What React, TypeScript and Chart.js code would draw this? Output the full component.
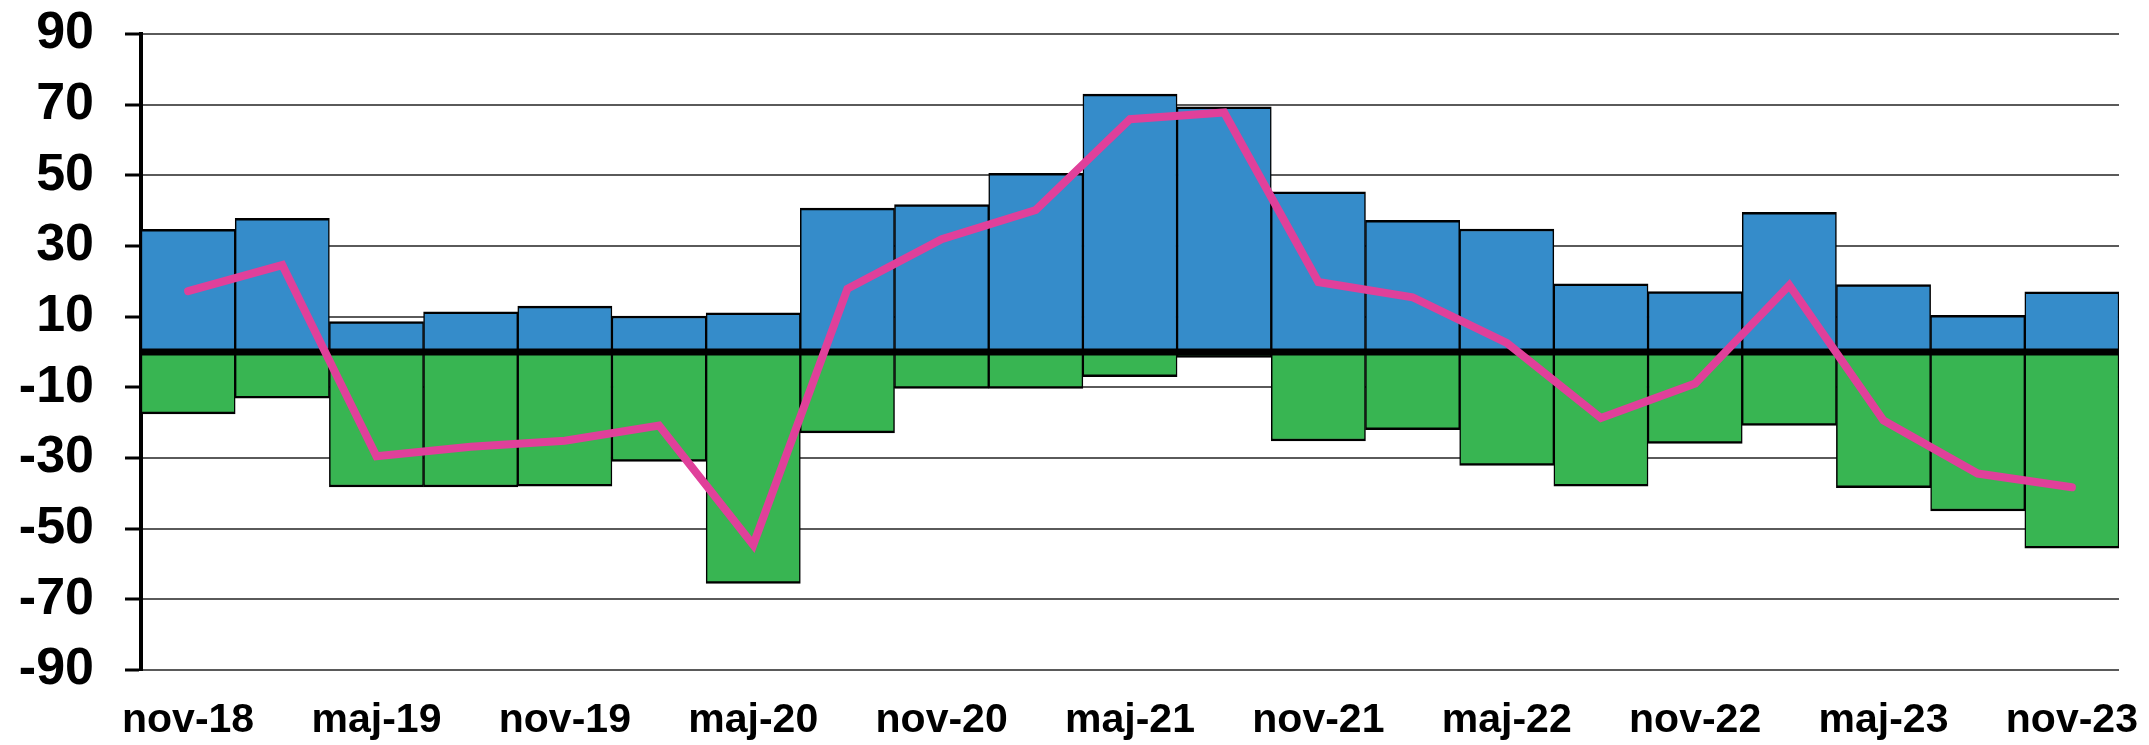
import React, { useEffect, useRef } from "react";
import { Chart, registerables } from "chart.js";

Chart.register(...registerables);

const CATEGORIES = [
  "nov-18", "feb-19", "maj-19", "aug-19", "nov-19", "feb-20", "maj-20",
  "aug-20", "nov-20", "feb-21", "maj-21", "aug-21", "nov-21", "feb-22",
  "maj-22", "aug-22", "nov-22", "feb-23", "maj-23", "aug-23", "nov-23",
];
const POSITIVE = [
  34.7, 37.8, 8.6, 11.4, 13.0, 10.2, 11.1, 40.7, 41.7, 50.6, 73.0, 69.4,
  45.3, 37.3, 34.8, 19.3, 17.1, 39.5, 19.1, 10.4, 17.0,
];
const NEGATIVE = [
  -17.5, -13.1, -38.2, -38.2, -38.0, -31.0, -65.5, -22.9, -10.3, -10.3, -7.0,
  -1.5, -25.2, -22.0, -32.1, -38.0, -25.9, -20.8, -38.4, -45.0, -55.5,
];
const BALANCE = [
  17.2, 24.6, -29.5, -26.8, -25.1, -20.8, -54.6, 17.9, 31.9, 40.2, 65.9, 67.8,
  19.8, 15.5, 2.6, -18.7, -8.9, 18.9, -19.4, -34.4, -38.3,
];
const Y_TICKS = [-90, -70, -50, -30, -10, 10, 30, 50, 70, 90];

const FONT = "'Liberation Sans', Arial, sans-serif";

const zeroLine = {
  id: "zeroLine",
  beforeDatasetDraw(chart: any, args: any) {
    if (args.meta.type !== "line") return;
    const y = chart.scales.y.getPixelForValue(0);
    const { left, right } = chart.chartArea;
    const ctx = chart.ctx;
    ctx.save();
    ctx.strokeStyle = "#000";
    ctx.lineWidth = 7;
    ctx.beginPath();
    ctx.moveTo(left, y);
    ctx.lineTo(right, y);
    ctx.stroke();
    ctx.restore();
  },
};

const BAR_BORDER = { top: 2.5, bottom: 2.5, left: 1.5, right: 1.5 };

export default function App() {
  const ref = useRef<HTMLCanvasElement>(null);

  useEffect(() => {
    if (!ref.current) return;
    const chart = new Chart(ref.current, {
      type: "bar",
      data: {
        labels: CATEGORIES,
        datasets: [
          {
            type: "line",
            data: BALANCE,
            borderColor: "#E0409A",
            borderWidth: 8,
            pointRadius: 0,
            tension: 0,
            stack: "line",
            order: 0,
            borderCapStyle: "round",
            borderJoinStyle: "miter",
          } as any,
          {
            type: "bar",
            data: POSITIVE,
            backgroundColor: "#358CCA",
            borderColor: "#000",
            borderWidth: BAR_BORDER,
            barPercentage: 1,
            categoryPercentage: 1,
            stack: "bars",
            order: 1,
          } as any,
          {
            type: "bar",
            data: NEGATIVE,
            backgroundColor: "#38B552",
            borderColor: "#000",
            borderWidth: BAR_BORDER,
            barPercentage: 1,
            categoryPercentage: 1,
            stack: "bars",
            order: 1,
          } as any,
        ],
      },
      options: {
        animation: false,
        responsive: false,
        events: [],
        layout: { padding: { left: 0, top: 34, right: 30, bottom: 0 } },
        plugins: {
          legend: { display: false },
          tooltip: { enabled: false },
          title: { display: false },
        },
        scales: {
          x: {
            stacked: true,
            grid: { display: false, drawTicks: false },
            border: { display: false },
            afterFit: (scale: any) => {
              scale.height = 75;
              scale.paddingLeft = 0;
              scale.paddingRight = 0;
            },
            ticks: {
              autoSkip: false,
              maxRotation: 0,
              padding: 26,
              color: "#000",
              font: { family: FONT, size: 41, weight: "bold" },
              callback: (_v: any, i: number) => (i % 2 === 0 ? CATEGORIES[i] : ""),
            },
          },
          y: {
            stacked: true,
            min: -90,
            max: 90,
            afterBuildTicks: (scale: any) => {
              scale.ticks = Y_TICKS.map((v) => ({ value: v }));
            },
            afterFit: (scale: any) => {
              scale.width = 141;
              scale.paddingTop = 0;
              scale.paddingBottom = 0;
            },
            grid: {
              color: "#5a5a5a",
              lineWidth: 2,
              tickColor: "#000",
              tickLength: 16,
              tickWidth: 3,
            },
            border: { display: true, color: "#000", width: 4 },
            ticks: {
              padding: 31,
              color: "#000",
              font: { family: FONT, size: 52, weight: "bold" },
            },
          },
        },
      },
      plugins: [zeroLine],
    });
    return () => chart.destroy();
  }, []);

  return (
    <canvas
      ref={ref}
      width={2149}
      height={745}
      style={{ position: "absolute", left: 0, top: 0, display: "block" }}
    />
  );
}
